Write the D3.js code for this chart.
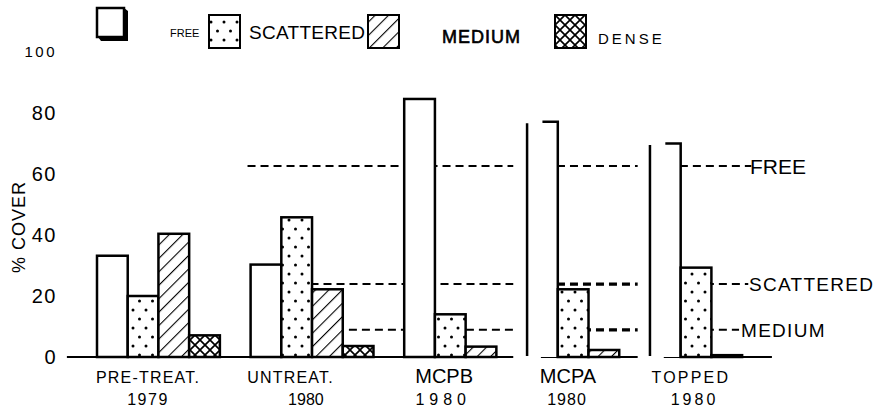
<!DOCTYPE html>
<html><head><meta charset="utf-8">
<script src="https://cdn.jsdelivr.net/npm/d3@7"></script>
<style>body{margin:0;background:#fff}svg{display:block;font-family:"Liberation Sans",Arial,sans-serif}</style>
</head><body><svg id="c" width="880" height="411"></svg>
<script>
// ---- data ----
const categories = ["PRE-TREAT.", "UNTREAT.", "MCPB", "MCPA", "TOPPED"];
const years = ["1979", "1980", "1980", "1980", "1980"];
const series = ["FREE", "SCATTERED", "MEDIUM", "DENSE"];
const freeValues = [33.2, 30.3, 84.6, 77.1, 70.0];
const scatteredValues = [20.0, 45.8, 14.0, 22.2, 29.3];
const mediumValues = [40.4, 22.2, 3.4, 2.3, 0.6];
const denseValues = [7.1, 3.6, null, null, null];
const yTicks = [0, 20, 40, 60, 80, 100];
const refNames = ["FREE", "SCATTERED", "MEDIUM"];
const refValues = [62.6, 23.9, 8.9];

// ---- layout ----
const svg = d3.select("#c");
const slotW = 30.72;
const groupSlot = [0, 5, 10, 14, 18];
const xs = d3.scaleLinear().domain([0, 22]).range([97, 97 + 22 * slotW]);
const y = d3.scaleLinear().domain([0, 100]).range([357, 52]);
const allValues = [freeValues, scatteredValues, mediumValues, denseValues];
const fills = ["#fff", "url(#dots)", "url(#hatch)", "url(#cross)"];

const defs = svg.append("defs");
const pd = defs.append("pattern").attr("id", "dots").attr("patternUnits", "userSpaceOnUse")
  .attr("width", 13).attr("height", 18);
pd.append("rect").attr("width", 13).attr("height", 18).attr("fill", "#fff");
pd.append("circle").attr("cx", 3).attr("cy", 4).attr("r", 1.5).attr("fill", "#000");
pd.append("circle").attr("cx", 9.5).attr("cy", 13).attr("r", 1.5).attr("fill", "#000");
const ph = defs.append("pattern").attr("id", "hatch").attr("patternUnits", "userSpaceOnUse")
  .attr("width", 9.5).attr("height", 9.5).attr("patternTransform", "rotate(45)");
ph.append("rect").attr("width", 9.5).attr("height", 9.5).attr("fill", "#fff");
ph.append("line").attr("x1", 0).attr("y1", 0).attr("x2", 0).attr("y2", 9.5).attr("stroke", "#000").attr("stroke-width", 2.2);
const pc = defs.append("pattern").attr("id", "cross").attr("patternUnits", "userSpaceOnUse")
  .attr("width", 10).attr("height", 10);
pc.append("rect").attr("width", 10).attr("height", 10).attr("fill", "#fff");
pc.append("path").attr("d", "M0,0L10,10M10,0L0,10M-1,9L1,11M9,-1L11,1").attr("stroke", "#000").attr("stroke-width", 1.7);

// y tick labels
svg.append("g").selectAll("text").data(yTicks).join("text")
  .attr("x", 57).attr("y", d => y(d)).attr("dy", "0.35em").attr("text-anchor", "end")
  .attr("font-size", d => d === 100 ? 15 : 20).attr("letter-spacing", d => d === 100 ? 2.5 : 1.5)
  .text(d => d);
svg.append("text").attr("transform", "translate(25,227) rotate(-90)").attr("text-anchor", "middle")
  .attr("font-size", 18).attr("letter-spacing", 1).text("% COVER");

// panels (slot units)
const panels = [[-0.98, 13.55], [14.45, 17.6], [18.45, 21.97]];
svg.append("g").selectAll("line").data(panels).join("line")
  .attr("x1", d => xs(d[0])).attr("x2", d => xs(d[1]))
  .attr("y1", y(0)).attr("y2", y(0)).attr("stroke", "#000").attr("stroke-width", 2);

// reference dashed lines
const refStart = [4.9, 6.95, 8.2];
const refEnd3 = [21.3, 21.2, 20.9];
refValues.forEach((v, i) => {
  const segs = [[refStart[i], 13.55, 2], [14.55, 17.6, i === 0 ? 2 : 3.2], [18.55, refEnd3[i], 2]];
  svg.append("g").selectAll("line").data(segs).join("line")
    .attr("x1", d => xs(d[0])).attr("x2", d => xs(d[1])).attr("y1", y(v)).attr("y2", y(v))
    .attr("stroke", "#000").attr("stroke-width", d => d[2]).attr("stroke-dasharray", "8,5");
});
const refLabelX = [750, 749, 741];
const refFont = [21, 19, 19];
svg.append("g").selectAll("text").data(refNames).join("text")
  .attr("x", (d, i) => refLabelX[i]).attr("y", (d, i) => y(refValues[i])).attr("dy", "0.36em")
  .attr("font-size", (d, i) => refFont[i]).attr("letter-spacing", (d, i) => i === 0 ? 0 : 1.3)
  .text(d => d);

// bars
const bars = svg.append("g");
categories.forEach((c, g) => {
  allValues.forEach((vals, s) => {
    const v = vals[g];
    if (v == null) return;
    const x0 = xs(groupSlot[g] + s), x1 = xs(groupSlot[g] + s + 1), yt = y(v), yb = y(0);
    if (s === 0 && g >= 3) {
      bars.append("rect").attr("x", x0).attr("y", yt).attr("width", x1 - x0).attr("height", yb - yt).attr("fill", "#fff");
      bars.append("path").attr("fill", "none").attr("stroke", "#000").attr("stroke-width", 2.5)
        .attr("d", `M${x0},${yt + 1.5}L${x0},${yb - 1}M${x0 + (x1 - x0) * 0.5},${yt}L${x1},${yt}L${x1},${yb}`);
    } else {
      bars.append("rect").attr("x", x0).attr("y", yt).attr("width", x1 - x0).attr("height", yb - yt)
        .attr("fill", fills[s]).attr("stroke", "#000").attr("stroke-width", 2.5);
    }
  });
});

// category labels
const labelOff = [1.66, 1.3, 1.3, 1.33, 1.33];
const yearOff = [1.66, 1.8, 1.27, 1.3, 1.45];
const labelFont = [16, 16, 20, 20, 16];
const labelSpacing = [1.2, 1.2, 0, 0, 2.2];
const yearSpacing = [1.5, 0, 5, 1, 3];
svg.append("g").selectAll("text").data(categories).join("text")
  .attr("x", (d, i) => xs(groupSlot[i] + labelOff[i])).attr("y", 383).attr("text-anchor", "middle")
  .attr("font-size", (d, i) => labelFont[i]).attr("letter-spacing", (d, i) => labelSpacing[i]).text(d => d);
svg.append("g").selectAll("text").data(years).join("text")
  .attr("x", (d, i) => xs(groupSlot[i] + yearOff[i])).attr("y", 405).attr("text-anchor", "middle")
  .attr("font-size", 16).attr("letter-spacing", (d, i) => yearSpacing[i]).text(d => d);

// legend
const lg = svg.append("g");
lg.append("path").attr("d", "M101,41L128,41L128,11L124,8L124,37L98,37Z").attr("fill", "#000");
lg.append("rect").attr("x", 97).attr("y", 8).attr("width", 27).attr("height", 29).attr("fill", "#fff")
  .attr("stroke", "#000").attr("stroke-width", 2.5);
lg.append("text").attr("x", 170).attr("y", 37).attr("font-size", 11).text(series[0]);
const boxes = [[209, 1], [368, 2], [555, 3]];
lg.selectAll("rect.b").data(boxes).join("rect").attr("class", "b")
  .attr("x", d => d[0]).attr("y", 15).attr("width", 31).attr("height", 33)
  .attr("fill", d => fills[d[1]]).attr("stroke", "#000").attr("stroke-width", 2);
lg.append("text").attr("x", 249).attr("y", 39).attr("font-size", 19).attr("letter-spacing", 0.3).text(series[1]);
lg.append("text").attr("x", 442).attr("y", 43).attr("font-size", 18).attr("stroke", "#000").attr("stroke-width", 0.6)
  .attr("letter-spacing", 1).text(series[2]);
lg.append("text").attr("x", 598).attr("y", 44).attr("font-size", 15).attr("letter-spacing", 3).text(series[3]);
</script></body></html>
